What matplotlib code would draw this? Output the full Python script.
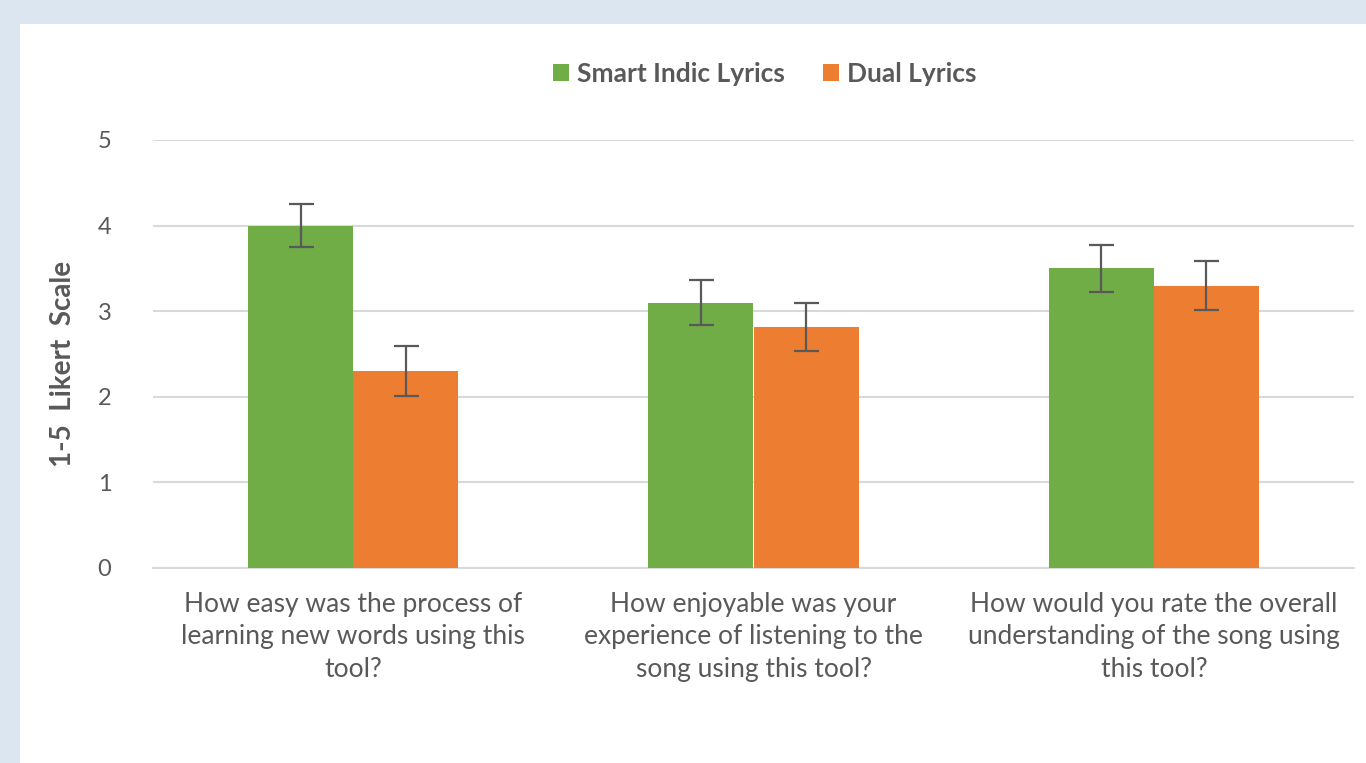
import matplotlib
matplotlib.use("Agg")
import matplotlib.pyplot as plt
import numpy as np
from matplotlib.patches import Rectangle

categories = ["How easy was the process of\nlearning new words using this\ntool?",
              "How enjoyable was your\nexperience of listening to the\nsong using this tool?",
              "How would you rate the overall\nunderstanding of the song using\nthis tool?"]
series_names = ["Smart Indic Lyrics", "Dual Lyrics"]
smart_vals = [4.0, 3.1, 3.5]
smart_err = [0.25, 0.26, 0.27]
dual_vals = [2.3, 2.81, 3.3]
dual_err = [0.29, 0.28, 0.29]
yticks = [0, 1, 2, 3, 4, 5]

plt.rcParams['font.family'] = ['Lato', 'DejaVu Sans']
txt = '#595959'

fig = plt.figure(figsize=(13.66, 7.63), dpi=100)
fig.patch.set_facecolor('#dce6f1')
fig.add_artist(Rectangle((20/1366, 0), 1 - 20/1366, 1 - 24/763, transform=fig.transFigure,
                         facecolor='white', edgecolor='none', zorder=0))

ax = fig.add_axes([153/1366, 1 - 568/763, 1201/1366, (568 - 140)/763])
ax.set_facecolor('none')
x = np.arange(len(categories))
w = 0.2625
ekw = dict(ecolor='#595959', elinewidth=1.6, capsize=9, capthick=1.6)
ax.bar(x - w/2, smart_vals, w, color='#70ad47', yerr=smart_err, error_kw=ekw,
       label=series_names[0], zorder=3)
ax.bar(x + w/2, dual_vals, w, color='#ed7d31', yerr=dual_err, error_kw=ekw,
       label=series_names[1], zorder=3)

ax.set_xlim(-0.5, 2.5)
ax.set_ylim(0, 5)
ax.set_yticks(yticks)
ax.set_xticks(x)
ax.set_xticklabels(categories, fontsize=19, color=txt, linespacing=1.38)
ax.tick_params(axis='y', labelsize=17, labelcolor=txt, length=0, pad=30)
ax.tick_params(axis='x', length=0, pad=17)
ax.grid(axis='y', color='#d9d9d9', linewidth=1.5, zorder=0)
for s in ['top', 'right', 'left']:
    ax.spines[s].set_visible(False)
ax.spines['bottom'].set_color('#d9d9d9')
ax.spines['bottom'].set_linewidth(1.5)
ax.set_ylabel("1-5  Likert  Scale", fontsize=20, fontweight='bold', color=txt)
ax.yaxis.set_label_coords(-(153 - 76) / 1201, 0.477)

leg = fig.legend(loc='center', bbox_to_anchor=(765/1366, 1 - 74/763), ncol=2, frameon=False,
                 prop={'size': 19, 'weight': 'bold'}, handlelength=0.6, handleheight=0.6,
                 handletextpad=0.3, columnspacing=1.45)
for t in leg.get_texts():
    t.set_color(txt)

fig.savefig("out.png", dpi=100, facecolor=fig.get_facecolor())
